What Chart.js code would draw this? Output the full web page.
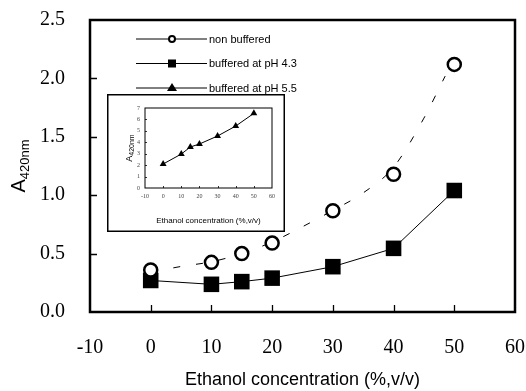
<!DOCTYPE html>
<html>
<head>
<meta charset="utf-8">
<script src="https://cdn.jsdelivr.net/npm/chart.js@4.4.1/dist/chart.umd.min.js"></script>
<style>
  body { margin: 0; background: #fff; }
  #wrap { position: relative; width: 526px; height: 391px; }
  #main { position: absolute; left: 0; top: 0; }
  #inset { position: absolute; left: 107px; top: 94px; }
</style>
</head>
<body>
<div id="wrap">
  <canvas id="main" width="526" height="391"></canvas>
  <canvas id="inset" width="178" height="138"></canvas>
</div>
<script>
// data
const concentrations = [0, 10, 15, 20, 30, 40, 50];
const nonBuffered = [0.36, 0.425, 0.50, 0.59, 0.867, 1.18, 2.12];
const bufferedPH43 = [0.27, 0.237, 0.26, 0.29, 0.388, 0.545, 1.04];
const bufferedPH55 = [2.1, 2.97, 3.59, 3.85, 4.55, 5.42, 6.53];
// dashed trend curve through the non buffered points
const trendX = [0, 5, 10, 15, 20, 25, 30, 35, 40, 45, 48.5];
const trendY = [0.34, 0.39, 0.43, 0.50, 0.60, 0.73, 0.87, 1.02, 1.24, 1.66, 2.02];
const legendLabels = ['non buffered', 'buffered at pH 4.3', 'buffered at pH 5.5'];
const xTicks = [-10, 0, 10, 20, 30, 40, 50, 60];
const yTicks = [0, 0.5, 1.0, 1.5, 2.0, 2.5];
const insetYTicks = [0, 1, 2, 3, 4, 5, 6, 7];
const xTitle = 'Ethanol concentration (%,v/v)';

const toPoints = (xs, ys) => xs.map((x, i) => ({ x: x, y: ys[i] }));

// no automatic room for edge labels, the layout padding decides
const fixX = h => s => { s.height = h; s.paddingLeft = 0; s.paddingRight = 0; };
const fixY = w => s => { s.width = w; s.paddingTop = 0; s.paddingBottom = 0; };

// box around plot, inward tick marks and y title with subscript
const frame = (opts) => ({
  id: 'frame',
  beforeDraw(chart) {
    const ctx = chart.ctx;
    ctx.save();
    ctx.fillStyle = '#fff';
    ctx.fillRect(0, 0, chart.width, chart.height);
    ctx.restore();
  },
  afterDraw(chart) {
    const { ctx, chartArea: a } = chart;
    const xs = chart.scales.x, ys = chart.scales.y;
    ctx.save();
    ctx.strokeStyle = '#000';
    ctx.lineWidth = opts.tickWidth;
    ctx.beginPath();
    opts.xTicks.forEach(v => {
      const px = Math.round(xs.getPixelForValue(v)) + 0.5;
      ctx.moveTo(px, a.bottom);
      ctx.lineTo(px, a.bottom - opts.tickLen);
    });
    opts.yTicks.forEach(v => {
      const py = Math.round(ys.getPixelForValue(v)) + 0.5;
      ctx.moveTo(a.left, py);
      ctx.lineTo(a.left + opts.tickLen, py);
    });
    ctx.stroke();
    ctx.lineWidth = opts.boxWidth;
    ctx.strokeRect(a.left, a.top, a.right - a.left, a.bottom - a.top);

    // y title: A with subscript 420nm
    ctx.translate(opts.titleX, (a.top + a.bottom) / 2 + opts.titleShift);
    ctx.rotate(-Math.PI / 2);
    ctx.fillStyle = '#000';
    ctx.textBaseline = 'alphabetic';
    ctx.font = opts.bigFont;
    const wA = ctx.measureText('A').width;
    ctx.font = opts.subFont;
    const wS = ctx.measureText('420nm').width;
    const x0 = -(wA + wS) / 2;
    ctx.font = opts.bigFont;
    ctx.fillText('A', x0, 0);
    ctx.font = opts.subFont;
    ctx.fillText('420nm', x0 + wA, opts.subDrop);
    ctx.restore();

    if (opts.border) {
      ctx.save();
      ctx.strokeStyle = '#000';
      ctx.lineWidth = 1.5;
      ctx.strokeRect(0.75, 0.75, chart.width - 1.5, chart.height - 1.5);
      ctx.restore();
    }
  }
});

// key in the upper left of the main plot
const keyPlugin = {
  id: 'key',
  afterDraw(chart) {
    const ctx = chart.ctx;
    ctx.save();
    legendLabels.forEach((label, i) => {
      const y = 39 + i * 24.5;
      ctx.strokeStyle = '#000';
      ctx.lineWidth = 1;
      ctx.beginPath();
      ctx.moveTo(136, y);
      ctx.lineTo(207, y);
      ctx.stroke();
      ctx.fillStyle = '#000';
      if (i === 0) {
        ctx.beginPath();
        ctx.arc(172, y, 3, 0, Math.PI * 2);
        ctx.fillStyle = '#fff';
        ctx.fill();
        ctx.lineWidth = 2;
        ctx.stroke();
      } else if (i === 1) {
        ctx.fillRect(168, y - 4, 8, 8);
      } else {
        ctx.beginPath();
        ctx.moveTo(172, y - 5);
        ctx.lineTo(177, y + 3);
        ctx.lineTo(167, y + 3);
        ctx.closePath();
        ctx.fill();
      }
      ctx.fillStyle = '#000';
      ctx.font = '11px "Liberation Sans", Arial, sans-serif';
      ctx.textBaseline = 'middle';
      ctx.fillText(label, 209, y + 0.5);
    });
    ctx.restore();
  }
};

new Chart(document.getElementById('main'), {
  type: 'line',
  data: {
    datasets: [
      {
        label: legendLabels[0],
        data: toPoints(concentrations, nonBuffered),
        showLine: false,
        pointStyle: 'circle',
        pointRadius: 6.5,
        pointBorderWidth: 2.5,
        pointBackgroundColor: '#fff',
        pointBorderColor: '#000',
        order: 0
      },
      {
        label: legendLabels[1],
        data: toPoints(concentrations, bufferedPH43),
        borderColor: '#000',
        borderWidth: 1,
        pointStyle: 'rect',
        pointRadius: 11,
        pointBorderWidth: 0,
        pointBackgroundColor: '#000',
        pointBorderColor: '#000',
        order: 1
      },
      {
        label: 'trend',
        data: toPoints(trendX, trendY),
        borderColor: '#000',
        borderWidth: 1,
        borderDash: [7, 16],
        cubicInterpolationMode: 'monotone',
        pointRadius: 0,
        order: 2
      }
    ]
  },
  options: {
    responsive: false,
    animation: false,
    devicePixelRatio: 1,
    layout: { padding: { top: 20, right: 11, left: 0, bottom: 0 } },
    plugins: { legend: { display: false }, tooltip: { enabled: false } },
    scales: {
      x: {
        type: 'linear',
        min: -10, max: 60,
        afterFit: fixX(79),
        afterBuildTicks(s) { s.ticks = xTicks.map(v => ({ value: v })); },
        grid: { display: false, drawTicks: false },
        border: { display: false },
        ticks: {
          padding: 24,
          color: '#000',
          font: { family: '"Liberation Serif", "Times New Roman", serif', size: 20 }
        },
        title: {
          display: true,
          text: xTitle,
          color: '#000',
          padding: { top: 0, bottom: 0 },
          font: { family: '"Liberation Sans", Arial, sans-serif', size: 18 }
        }
      },
      y: {
        min: 0, max: 2.5,
        afterFit: fixY(90),
        afterBuildTicks(s) { s.ticks = yTicks.map(v => ({ value: v })); },
        grid: { display: false, drawTicks: false },
        border: { display: false },
        ticks: {
          padding: 25,
          color: '#000',
          callback: v => v.toFixed(1),
          font: { family: '"Liberation Serif", "Times New Roman", serif', size: 20 }
        }
      }
    }
  },
  plugins: [frame({
    xTicks: xTicks.slice(1, -1), yTicks: yTicks.slice(1, -1),
    tickLen: 7, tickWidth: 1.3, boxWidth: 2.5,
    titleX: 25, titleShift: 0, subDrop: 4,
    bigFont: '20px "Liberation Sans", Arial, sans-serif',
    subFont: '13px "Liberation Sans", Arial, sans-serif',
    border: false
  }), keyPlugin]
});

new Chart(document.getElementById('inset'), {
  type: 'line',
  data: {
    datasets: [{
      label: legendLabels[2],
      data: toPoints(concentrations, bufferedPH55),
      borderColor: '#000',
      borderWidth: 1,
      pointStyle: 'triangle',
      pointRadius: 4,
      pointBorderWidth: 0,
      pointBackgroundColor: '#000',
      pointBorderColor: '#000'
    }]
  },
  options: {
    responsive: false,
    animation: false,
    devicePixelRatio: 1,
    layout: { padding: { top: 14, right: 13, left: 0, bottom: 0 } },
    plugins: { legend: { display: false }, tooltip: { enabled: false } },
    scales: {
      x: {
        type: 'linear',
        min: -10, max: 60,
        afterFit: fixX(44),
        afterBuildTicks(s) { s.ticks = xTicks.map(v => ({ value: v })); },
        grid: { display: false, drawTicks: false },
        border: { display: false },
        ticks: {
          padding: 5,
          color: '#444',
          font: { family: '"Liberation Serif", "Times New Roman", serif', size: 6 }
        },
        title: {
          display: true,
          text: xTitle,
          color: '#000',
          padding: { top: 0, bottom: 6 },
          font: { family: '"Liberation Sans", Arial, sans-serif', size: 8 }
        }
      },
      y: {
        min: 0, max: 7,
        afterFit: fixY(38),
        afterBuildTicks(s) { s.ticks = insetYTicks.map(v => ({ value: v })); },
        grid: { display: false, drawTicks: false },
        border: { display: false },
        ticks: {
          padding: 5,
          color: '#444',
          font: { family: '"Liberation Serif", "Times New Roman", serif', size: 6 }
        }
      }
    }
  },
  plugins: [frame({
    xTicks: xTicks.slice(1, -1), yTicks: insetYTicks.slice(1, -1),
    tickLen: 2, tickWidth: 0.8, boxWidth: 1,
    titleX: 25, titleShift: 0, subDrop: 2,
    bigFont: '9px "Liberation Sans", Arial, sans-serif',
    subFont: '7px "Liberation Sans", Arial, sans-serif',
    border: true
  })]
});
</script>
</body>
</html>
